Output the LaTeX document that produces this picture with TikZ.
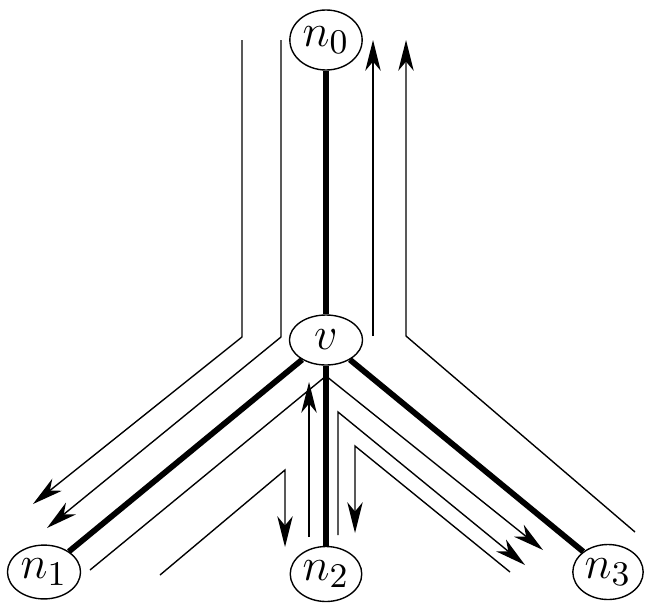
\documentclass[tikz,border=0pt]{standalone}
\usetikzlibrary{arrows.meta,shapes.geometric}
\begin{document}
\begin{tikzpicture}[x=0.26pt,y=-0.26pt,
  vert/.style={draw, ellipse, line width=0.36pt, inner sep=0pt, fill=white,
    font=\fontsize{12.5}{15}\selectfont},
  treeedge/.style={line width=1.5pt},
  tour/.style={line width=0.36pt},
  tourarr/.style={tour, -{Stealth[length=8pt,width=4pt,inset=2.4pt]}}]
\useasboundingbox (0,0) rectangle (645,605);
% coordinates of the tour lines
\coordinate (a1) at (242,40);  \coordinate (a2) at (242,337); \coordinate (a3) at (33,504);
\coordinate (b1) at (281,40);  \coordinate (b2) at (281,337); \coordinate (b3) at (47,528);
\coordinate (c1) at (373,336); \coordinate (c2) at (373,40);
\coordinate (d1) at (635,532); \coordinate (d2) at (406,336); \coordinate (d3) at (406,40);
\coordinate (e1) at (90,570);  \coordinate (e2) at (326,376); \coordinate (e3) at (543,550);
\coordinate (f1) at (309,537); \coordinate (f2) at (309,382);
\coordinate (g1) at (160,575); \coordinate (g2) at (285,470); \coordinate (g3) at (285,547);
\coordinate (h1) at (338,535); \coordinate (h2) at (338,412); \coordinate (h3) at (525,565);
\coordinate (i1) at (510,572); \coordinate (i2) at (355,446); \coordinate (i3) at (355,533);
% tour lines
\draw[tourarr] (a1) -- (a2) -- (a3);
\draw[tourarr] (b1) -- (b2) -- (b3);
\draw[tourarr] (c1) -- (c2);
\draw[tourarr] (d1) -- (d2) -- (d3);
\draw[tourarr] (e1) -- (e2) -- (e3);
\draw[tourarr] (f1) -- (f2);
\draw[tourarr] (g1) -- (g2) -- (g3);
\draw[tourarr] (h1) -- (h2) -- (h3);
\draw[tourarr] (i1) -- (i2) -- (i3);
% nodes
\node[vert, minimum width=18.8pt, minimum height=15.6pt] (n0) at (326,40) {$n_0$};
\node[vert, minimum width=19pt, minimum height=13pt] (v) at (326,340) {$v$};
\node[vert, minimum width=19pt, minimum height=14pt] (n1) at (44,572) {$n_1$};
\node[vert, minimum width=18.6pt, minimum height=14.3pt] (n2) at (326,574) {$n_2$};
\node[vert, minimum width=18.3pt, minimum height=14.3pt] (n3) at (608,572) {$n_3$};
% tree edges
\draw[treeedge] (n0) -- (v);
\draw[treeedge] (v) -- (n1);
\draw[treeedge] (v) -- (n2);
\draw[treeedge] (v) -- (n3);
\end{tikzpicture}
\end{document}
